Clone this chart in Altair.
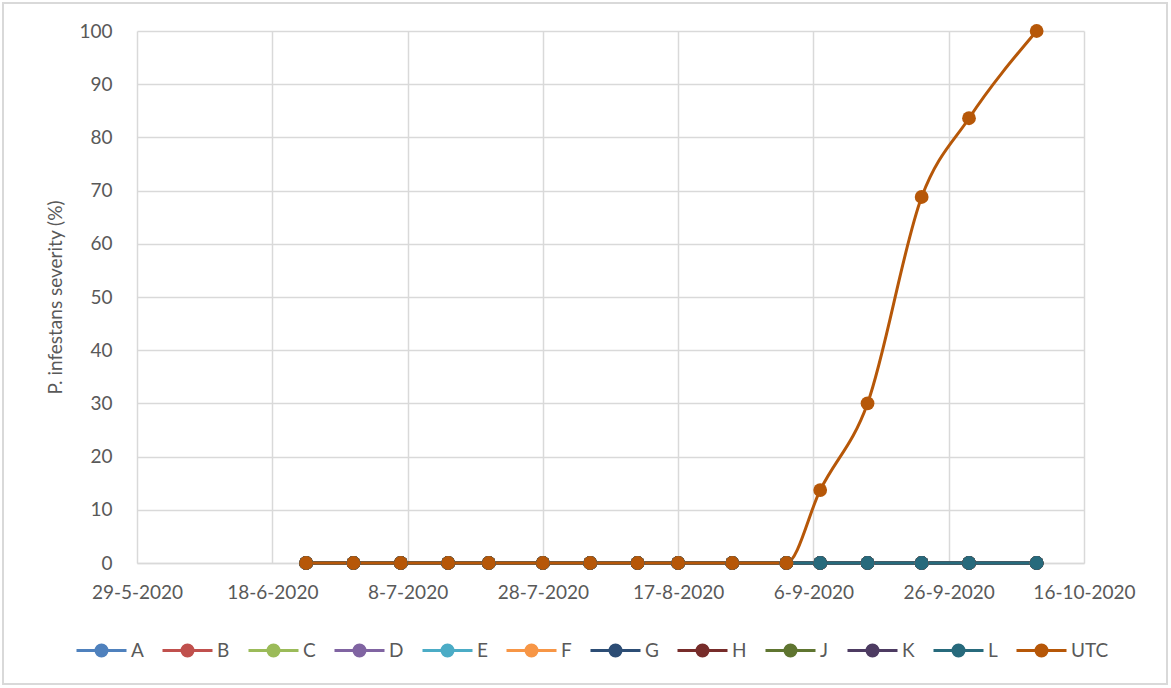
import altair as alt
import pandas as pd

# ---- data ----
dates = ["2020-06-23", "2020-06-30", "2020-07-07", "2020-07-14", "2020-07-20",
         "2020-07-28", "2020-08-04", "2020-08-11", "2020-08-17", "2020-08-25",
         "2020-09-02", "2020-09-07", "2020-09-14", "2020-09-22", "2020-09-29",
         "2020-10-09"]
treatments = ["A", "B", "C", "D", "E", "F", "G", "H", "J", "K", "L"]
treatment_values = [0] * 16
utc_values = [0, 0, 0, 0, 0, 0, 0, 0, 0, 0, 0, 13.7, 30.0, 68.8, 83.6, 100.0]
series_names = treatments + ["UTC"]
series_colors = ["#4F81BD", "#C0504D", "#9BBB59", "#8064A2", "#4BACC6", "#F79646",
                 "#2C4D75", "#772C2A", "#5F7530", "#4D3B62", "#276A7C", "#B65708"]
tick_dates = ["2020-05-29", "2020-06-18", "2020-07-08", "2020-07-28",
              "2020-08-17", "2020-09-06", "2020-09-26", "2020-10-16"]
y_ticks = list(range(0, 101, 10))

rows = []
for s in series_names:
    vals = utc_values if s == "UTC" else treatment_values
    for d, v in zip(dates, vals):
        rows.append({"series": s, "date": d + "T00:00:00", "value": v})
df = pd.DataFrame(rows)

FONT = "Lato"
TXT = "#595959"
GRID = "#d9d9d9"

def dt(s):
    y, m, d = (int(p) for p in s.split("-"))
    return alt.DateTime(year=y, month=m, date=d)

xenc = alt.X("date:T",
             scale=alt.Scale(domain=[dt(tick_dates[0]), dt(tick_dates[-1])]),
             axis=alt.Axis(values=[dt(t) for t in tick_dates], format="%-d-%-m-%Y",
                           title=None, labelFontSize=19, labelColor=TXT, labelFont=FONT,
                           ticks=False, labelPadding=20, domainColor=GRID,
                           domainWidth=1.5, gridColor=GRID, gridWidth=1.5,
                           labelFlush=False, labelOverlap=False))
yenc = alt.Y("value:Q",
             scale=alt.Scale(domain=[0, 100], nice=False),
             axis=alt.Axis(values=y_ticks, title="P. infestans severity (%)",
                           titleFontSize=19, titleFont=FONT, titleColor=TXT,
                           titleFontWeight="normal", titlePadding=13,
                           labelFontSize=19, labelColor=TXT, labelFont=FONT,
                           ticks=False, labelPadding=25, domain=False,
                           gridColor=GRID, gridWidth=1.5))

legend_path = "M-1,0H1M-0.22,0A0.22,0.22,0,1,1,0.22,0A0.22,0.22,0,1,1,-0.22,0Z"
color = alt.Color("series:N",
                  scale=alt.Scale(domain=series_names, range=series_colors),
                  legend=alt.Legend(orient="none", legendX=-62, legendY=593,
                                    direction="horizontal", columns=12, title=None,
                                    symbolType=legend_path, symbolSize=2500,
                                    symbolStrokeWidth=3, labelFontSize=19,
                                    labelFont=FONT, labelColor=TXT, labelOffset=3,
                                    columnPadding=12))

base = alt.Chart(df)
lines = base.mark_line(strokeWidth=3, interpolate="monotone").encode(
    x=xenc, y=yenc, color=color, detail="series:N")
points = base.mark_point(filled=True, size=190, opacity=1, shape="circle").encode(
    x=xenc, y=yenc, color=color)

frame = alt.Chart(pd.DataFrame({"f": [0]})).mark_rect(
    filled=False, stroke="#d9d9d9", strokeWidth=2, clip=False).encode(
    x=alt.value(-134), x2=alt.value(1030), y=alt.value(-28), y2=alt.value(653))

chart = alt.layer(frame, lines, points).properties(
    width=947, height=532,
    autosize=alt.AutoSizeParams(type="none"),
    padding={"left": 137, "top": 31, "right": 87, "bottom": 125},
    background="white",
).configure_view(stroke=None)

chart.save("out.html", embed_options={"renderer": "svg", "actions": False})
